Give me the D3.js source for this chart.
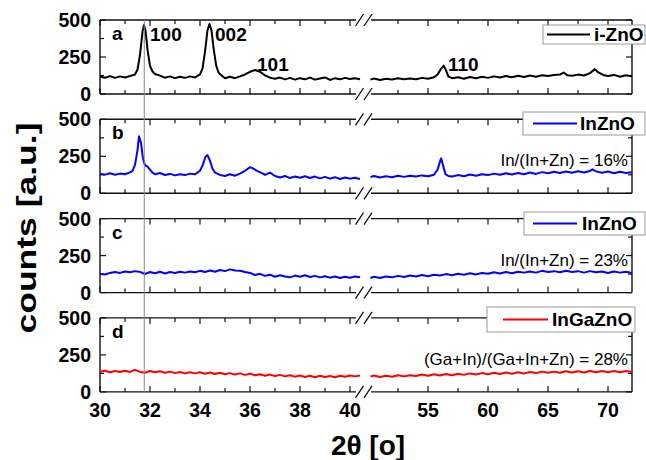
<!DOCTYPE html>
<html lang="en">
<head>
    <meta charset="UTF-8">
    <title>XRD patterns</title>
    <style>
        body { margin: 0; background: #fff; }
        svg text { font-family: "Liberation Sans", Arial, sans-serif; }
        .tick-label { font-size: 19.5px; font-weight: bold; }
        .peak { font-size: 19px; font-weight: bold; }
        .ratio { font-size: 17px; }
        .legend-text { font-size: 19px; font-weight: bold; }
    </style>
    <script src="https://d3js.org/d3.v7.min.js"></script>
</head>
<body>
<div id="chart"></div>
<script>
    // sample names, colours, composition notes
    const samples = ["i-ZnO", "InZnO", "InZnO", "InGaZnO"];
    const panelLetters = ["a", "b", "c", "d"];
    const colors = ["#000000", "#0000ff", "#0000ff", "#ff0000"];
    const ratios = ["", "In/(In+Zn) = 16%", "In/(In+Zn) = 23%", "(Ga+In)/(Ga+In+Zn) = 28%"];

    // tick values
    const yTicks = [0, 250, 500];
    const yMinor = [125, 375];
    const xTicksLeft = [30, 32, 34, 36, 38, 40];
    const xMinorLeft = [31, 33, 35, 37, 39];
    const xTicksRight = [55, 60, 65, 70];
    const xMinorRight = [52.5, 57.5, 62.5, 67.5];

    // reflection labels [text, 2theta, counts]
    const peakLabels = [["100", 32.0, 358], ["002", 34.6, 358], ["101", 36.28, 155], ["110", 56.67, 155]];
    const refLine = 31.77;

    // [2theta, counts], low-angle part
    const leftA = [[30.0,118],[30.2,110],[30.4,121],[30.6,109],[30.8,119],[31.0,112],[31.2,122],[31.4,132],[31.5,165],[31.6,265],[31.7,420],[31.76,466],[31.82,430],[31.9,300],[32.0,190],[32.1,152],[32.2,135],[32.4,124],[32.6,110],[32.8,119],[33.0,107],[33.2,117],[33.4,109],[33.6,119],[33.8,112],[34.0,132],[34.1,172],[34.2,285],[34.3,432],[34.38,472],[34.46,430],[34.55,300],[34.65,190],[34.75,142],[34.9,120],[35.0,107],[35.2,116],[35.4,107],[35.6,119],[35.8,132],[36.0,150],[36.2,162],[36.4,150],[36.6,126],[36.8,110],[37.0,103],[37.2,111],[37.4,99],[37.6,109],[37.8,97],[38.0,107],[38.2,99],[38.4,111],[38.6,97],[38.8,105],[39.0,112],[39.2,95],[39.4,107],[39.6,99],[39.8,109],[40.0,101],[40.2,107],[40.4,100]];
    const leftB = [[30.0,133],[30.2,126],[30.4,135],[30.6,125],[30.8,133],[31.0,129],[31.2,141],[31.3,152],[31.4,192],[31.5,292],[31.56,385],[31.64,342],[31.72,232],[31.8,190],[31.9,180],[32.0,160],[32.1,140],[32.2,129],[32.4,137],[32.6,124],[32.8,131],[33.0,121],[33.2,129],[33.4,123],[33.6,133],[33.8,128],[34.0,152],[34.1,187],[34.22,247],[34.3,258],[34.4,220],[34.5,166],[34.6,140],[34.8,124],[35.0,117],[35.2,129],[35.4,119],[35.6,133],[35.8,152],[36.0,176],[36.1,170],[36.3,150],[36.5,134],[36.6,124],[36.8,140],[37.0,117],[37.2,107],[37.4,117],[37.6,103],[37.8,113],[38.0,105],[38.2,115],[38.4,103],[38.6,113],[38.8,101],[39.0,111],[39.2,99],[39.4,109],[39.6,97],[39.8,107],[40.0,99],[40.2,105],[40.4,97]];
    const leftC = [[30.0,128],[30.2,122],[30.4,133],[30.6,139],[30.8,133],[31.0,143],[31.2,137],[31.4,145],[31.6,140],[31.8,126],[32.0,139],[32.2,131],[32.4,141],[32.6,129],[32.8,139],[33.0,133],[33.2,141],[33.4,135],[33.6,143],[33.8,137],[34.0,147],[34.2,139],[34.4,149],[34.6,141],[34.8,153],[35.0,145],[35.2,157],[35.4,149],[35.6,147],[35.8,139],[36.0,133],[36.2,119],[36.4,127],[36.6,113],[36.8,121],[37.0,107],[37.2,117],[37.4,109],[37.6,103],[37.8,115],[38.0,107],[38.2,117],[38.4,105],[38.6,113],[38.8,103],[39.0,111],[39.2,101],[39.4,109],[39.6,99],[39.8,107],[40.0,101],[40.2,109],[40.4,103]];
    const leftD = [[30.0,136],[30.2,143],[30.4,133],[30.6,141],[30.8,135],[31.0,143],[31.2,135],[31.4,149],[31.6,135],[31.8,129],[32.0,141],[32.2,133],[32.4,139],[32.6,129],[32.8,137],[33.0,127],[33.2,135],[33.4,125],[33.6,133],[33.8,125],[34.0,133],[34.2,123],[34.4,131],[34.6,121],[34.8,129],[35.0,119],[35.2,127],[35.4,117],[35.6,125],[35.8,115],[36.0,123],[36.2,113],[36.4,119],[36.6,109],[36.8,117],[37.0,107],[37.2,115],[37.4,105],[37.6,113],[37.8,103],[38.0,111],[38.2,101],[38.4,109],[38.6,99],[38.8,109],[39.0,101],[39.2,107],[39.4,99],[39.6,109],[39.8,103],[40.0,111],[40.2,105],[40.4,111]];

    // high-angle part
    const rightA = [[50.2,97],[50.5,105],[51.0,95],[51.5,103],[52.0,98],[52.5,107],[53.0,99],[53.5,105],[54.0,100],[54.5,109],[55.0,103],[55.5,113],[55.8,132],[56.1,172],[56.3,192],[56.5,160],[56.7,118],[57.0,107],[57.5,113],[58.0,103],[58.5,115],[59.0,107],[59.5,117],[60.0,109],[60.5,119],[61.0,111],[61.5,121],[62.0,113],[62.5,123],[63.0,115],[63.5,125],[64.0,117],[64.5,127],[65.0,121],[65.5,129],[66.0,131],[66.3,145],[66.6,127],[67.0,123],[67.5,131],[68.0,125],[68.5,141],[68.9,168],[69.2,146],[69.6,129],[70.0,121],[70.5,129],[71.0,117],[71.5,127],[72.0,119]];
    const rightB = [[50.2,110],[50.5,117],[51.0,107],[51.5,115],[52.0,109],[52.5,119],[53.0,111],[53.5,119],[54.0,113],[54.5,121],[55.0,115],[55.5,125],[55.8,160],[56.0,215],[56.1,236],[56.25,190],[56.45,130],[56.7,117],[57.0,113],[57.5,123],[58.0,115],[58.5,127],[59.0,119],[59.5,129],[60.0,123],[60.5,133],[61.0,125],[61.5,135],[62.0,127],[62.5,137],[63.0,129],[63.5,141],[64.0,131],[64.5,143],[65.0,135],[65.5,145],[66.0,137],[66.5,147],[67.0,139],[67.5,149],[68.0,141],[68.5,151],[68.7,162],[69.0,148],[69.5,139],[70.0,147],[70.5,135],[71.0,145],[71.5,137],[72.0,143]];
    const rightC = [[50.2,99],[50.5,107],[51.0,99],[51.5,109],[52.0,103],[52.5,113],[53.0,105],[53.5,115],[54.0,109],[54.5,119],[55.0,111],[55.5,121],[56.0,115],[56.5,125],[57.0,117],[57.5,127],[58.0,121],[58.5,131],[59.0,123],[59.5,133],[60.0,127],[60.5,137],[61.0,129],[61.5,139],[62.0,131],[62.5,141],[63.0,135],[63.5,143],[64.0,135],[64.5,147],[65.0,139],[65.5,145],[66.0,137],[66.5,147],[67.0,139],[67.5,145],[68.0,135],[68.5,145],[69.0,137],[69.5,143],[70.0,133],[70.5,143],[71.0,135],[71.5,141],[72.0,133]];
    const rightD = [[50.2,103],[50.5,111],[51.0,101],[51.5,109],[52.0,103],[52.5,113],[53.0,105],[53.5,113],[54.0,107],[54.5,117],[55.0,109],[55.5,119],[56.0,111],[56.5,121],[57.0,113],[57.5,123],[58.0,115],[58.5,125],[59.0,117],[59.5,127],[60.0,119],[60.5,129],[61.0,121],[61.5,131],[62.0,123],[62.5,133],[63.0,125],[63.5,135],[64.0,127],[64.5,137],[65.0,129],[65.5,137],[66.0,129],[66.5,139],[67.0,131],[67.5,139],[68.0,131],[68.5,141],[69.0,133],[69.5,141],[70.0,133],[70.5,141],[71.0,133],[71.5,141],[72.0,135]];

    const leftData = [leftA, leftB, leftC, leftD];
    const rightData = [rightA, rightB, rightC, rightD];

    const W = 646, H = 460;
    const svg = d3.select("#chart").append("svg")
        .attr("width", W).attr("height", H);

    const plotLeft = 100, plotRight = 632;
    const panelH = 74;
    const panelTop = i => 20 + i * 99.3;

    const xL = d3.scaleLinear().domain([30, 40.4]).range([plotLeft, 360]);
    const xR = d3.scaleLinear().domain([50, 72]).range([368, plotRight]);
    const y = d3.scaleLinear().domain([0, 500]).range([panelH, 0]);

    const breakL = 356, breakR = 371;   // axis line gap
    const slashes = [359.5, 368];

    // legend boxes (box x, y, w, h, sample line x1, x2, text x)
    const legendBoxes = [
        [543, 25, 102, 19, 547, 590, 594],
        [523, 112, 122, 23, 533, 577, 580],
        [524, 212, 121, 23, 533, 577, 582],
        [487, 307, 148, 25, 503, 548, 552]
    ];

    samples.forEach((name, i) => {
        const g = svg.append("g").attr("transform", `translate(0,${panelTop(i)})`);

        // frame: top and bottom lines broken at the axis break
        [0, panelH].forEach(yy => {
            g.append("line").attr("x1", plotLeft).attr("x2", breakL).attr("y1", yy).attr("y2", yy)
                .attr("stroke", "#111").attr("stroke-width", 1.4);
            g.append("line").attr("x1", breakR).attr("x2", plotRight).attr("y1", yy).attr("y2", yy)
                .attr("stroke", "#111").attr("stroke-width", 1.4);
            slashes.forEach(cx => {
                g.append("line").attr("x1", cx - 4).attr("x2", cx + 4)
                    .attr("y1", yy + 6).attr("y2", yy - 6)
                    .attr("stroke", "#111").attr("stroke-width", 1.3);
            });
        });
        g.append("line").attr("x1", plotLeft).attr("x2", plotLeft).attr("y1", 0).attr("y2", panelH)
            .attr("stroke", "#111").attr("stroke-width", 1.4);
        g.append("line").attr("x1", plotRight).attr("x2", plotRight).attr("y1", 0).attr("y2", panelH)
            .attr("stroke", "#111").attr("stroke-width", 1.4);

        // x ticks, inward on top and bottom
        const xTickSet = [
            ...xTicksLeft.map(v => [xL(v), 6]), ...xMinorLeft.map(v => [xL(v), 4]),
            ...xTicksRight.map(v => [xR(v), 6]), ...xMinorRight.map(v => [xR(v), 4])
        ];
        xTickSet.forEach(([px, len]) => {
            g.append("line").attr("x1", px).attr("x2", px).attr("y1", 0).attr("y2", len)
                .attr("stroke", "#111").attr("stroke-width", 1.2);
            g.append("line").attr("x1", px).attr("x2", px).attr("y1", panelH).attr("y2", panelH - len)
                .attr("stroke", "#111").attr("stroke-width", 1.2);
        });

        // y ticks, inward on both sides
        [...yTicks.map(v => [v, 6]), ...yMinor.map(v => [v, 4])].forEach(([v, len]) => {
            g.append("line").attr("x1", plotLeft).attr("x2", plotLeft + len).attr("y1", y(v)).attr("y2", y(v))
                .attr("stroke", "#111").attr("stroke-width", 1.2);
            g.append("line").attr("x1", plotRight).attr("x2", plotRight - len).attr("y1", y(v)).attr("y2", y(v))
                .attr("stroke", "#111").attr("stroke-width", 1.2);
        });
        g.selectAll(".ylab").data(yTicks).enter().append("text")
            .attr("class", "tick-label")
            .attr("x", 91).attr("y", d => y(d)).attr("dy", "0.36em")
            .attr("text-anchor", "end")
            .text(d => d);

        // data lines
        const lineL = d3.line().x(d => xL(d[0])).y(d => y(d[1]));
        const lineR = d3.line().x(d => xR(d[0])).y(d => y(d[1]));
        g.append("path").attr("d", lineL(leftData[i])).attr("fill", "none")
            .attr("stroke", colors[i]).attr("stroke-width", 2).attr("stroke-linejoin", "round");
        g.append("path").attr("d", lineR(rightData[i])).attr("fill", "none")
            .attr("stroke", colors[i]).attr("stroke-width", 2).attr("stroke-linejoin", "round");

        // panel letter
        g.append("text").attr("class", "peak").attr("x", 112).attr("y", 20).text(panelLetters[i]);

        // composition note
        if (ratios[i]) {
            g.append("text").attr("class", "ratio").attr("x", 628).attr("y", 47)
                .attr("text-anchor", "end").text(ratios[i]);
        }
    });

    // bottom x tick labels
    const bottom = panelTop(3) + panelH;
    svg.selectAll(".xlabL").data(xTicksLeft).enter().append("text")
        .attr("class", "tick-label").attr("x", d => xL(d)).attr("y", bottom + 25)
        .attr("text-anchor", "middle").text(d => d);
    svg.selectAll(".xlabR").data(xTicksRight).enter().append("text")
        .attr("class", "tick-label").attr("x", d => xR(d)).attr("y", bottom + 25)
        .attr("text-anchor", "middle").text(d => d);

    // reflection labels in panel a
    const gA = svg.append("g").attr("transform", `translate(0,${panelTop(0)})`);
    peakLabels.forEach(([t, tt, c]) => {
        const sc = tt > 45 ? xR : xL;
        gA.append("text").attr("class", "peak").attr("x", sc(tt)).attr("y", y(c)).text(t);
    });

    // reference line through all panels
    svg.append("line").attr("x1", xL(refLine)).attr("x2", xL(refLine))
        .attr("y1", panelTop(0)).attr("y2", bottom)
        .attr("stroke", "#888").attr("stroke-width", 1);

    // legends
    legendBoxes.forEach(([bx, by, bw, bh, l1, l2, tx], i) => {
        svg.append("rect").attr("x", bx).attr("y", by).attr("width", bw).attr("height", bh)
            .attr("fill", "#fff").attr("stroke", "#999").attr("stroke-width", 1);
        svg.append("line").attr("x1", l1).attr("x2", l2).attr("y1", by + bh / 2).attr("y2", by + bh / 2)
            .attr("stroke", colors[i]).attr("stroke-width", 2);
        svg.append("text").attr("class", "legend-text").attr("x", tx).attr("y", by + bh / 2)
            .attr("dy", "0.36em").text(samples[i]);
    });

    // axis titles
    svg.append("text").attr("transform", "translate(36,228) rotate(-90)")
        .attr("text-anchor", "middle").style("font-size", "28px").style("font-weight", "bold")
        .attr("textLength", 211).attr("lengthAdjust", "spacingAndGlyphs")
        .text("counts [a.u.]");
    svg.append("text").attr("x", 368).attr("y", 455)
        .attr("text-anchor", "middle").style("font-size", "28px").style("font-weight", "bold")
        .text("2θ [o]");
</script>
</body>
</html>
